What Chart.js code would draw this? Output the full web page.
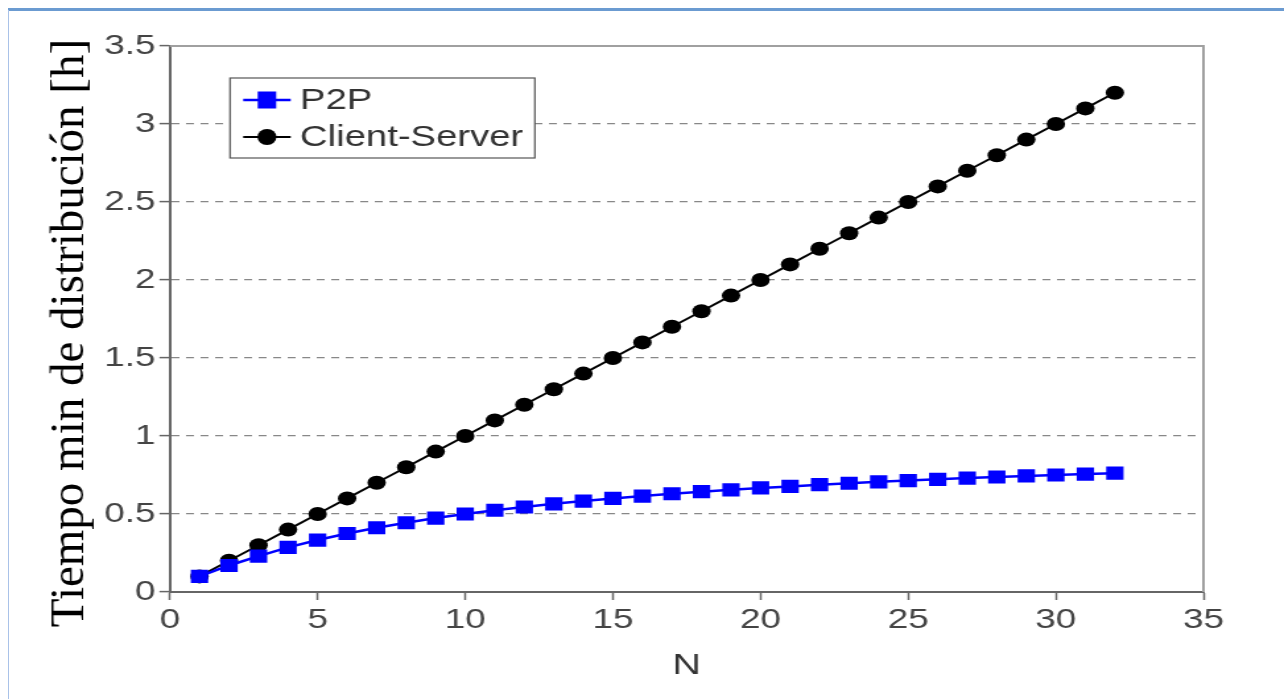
<!DOCTYPE html>
<html>
<head>
<meta charset="utf-8">
<script src="https://cdn.jsdelivr.net/npm/chart.js@4.4.1/dist/chart.umd.min.js"></script>
<style>
  html, body { margin: 0; padding: 0; background: #fff; overflow: hidden; }
  #frameTop { position: absolute; left: 8px; top: 8px; width: 1276px; height: 3px; background: #6b9bd1; }
  #frameLeft { position: absolute; left: 8px; top: 10px; width: 1px; height: 689px; background: #a9c2e8; }
  /* the original picture is stretched sideways, so the chart is drawn narrow and scaled */
  #wrap { position: absolute; left: 0; top: 0; width: 973px; height: 699px; transform: scaleX(1.3196); transform-origin: 0 0; }
</style>
</head>
<body>
<div id="frameTop"></div>
<div id="frameLeft"></div>
<div id="wrap"><canvas id="chart"></canvas></div>
<script>
// data
const nValues = [1, 2, 3, 4, 5, 6, 7, 8, 9, 10, 11, 12, 13, 14, 15, 16,
                 17, 18, 19, 20, 21, 22, 23, 24, 25, 26, 27, 28, 29, 30, 31, 32];
const p2pTimes = [0.10, 0.17, 0.23, 0.286, 0.333, 0.375, 0.412, 0.444, 0.474, 0.50, 0.524, 0.545,
                  0.565, 0.583, 0.60, 0.615, 0.63, 0.643, 0.655, 0.667, 0.677, 0.688, 0.697, 0.706,
                  0.714, 0.722, 0.73, 0.737, 0.744, 0.75, 0.756, 0.762];
const csTimes = [0.1, 0.2, 0.3, 0.4, 0.5, 0.6, 0.7, 0.8, 0.9, 1.0, 1.1, 1.2, 1.3, 1.4, 1.5, 1.6,
                 1.7, 1.8, 1.9, 2.0, 2.1, 2.2, 2.3, 2.4, 2.5, 2.6, 2.7, 2.8, 2.9, 3.0, 3.1, 3.2];
const seriesNames = ["P2P", "Client-Server"];
const yTickLabels = ["0", "0.5", "1", "1.5", "2", "2.5", "3", "3.5"];
const xTitle = "N";
const yTitle = "Tiempo min de distribución [h]";

const stretch = 1.3196;
const sans = "'Liberation Sans', Arial, sans-serif";
const serif = "'Liberation Serif', 'Times New Roman', serif";

function toPoints(ys) {
    return nValues.map((n, i) => ({ x: n, y: ys[i] }));
}

// top + right frame of the plot box
const boxFrame = {
    id: "boxFrame",
    beforeDatasetsDraw(chart) {
        const { ctx, chartArea: a } = chart;
        ctx.save();
        ctx.strokeStyle = "#a0a0a0";
        ctx.lineWidth = 2;
        ctx.beginPath();
        ctx.moveTo(a.left, a.top);
        ctx.lineTo(a.right, a.top);
        ctx.lineTo(a.right, a.bottom);
        ctx.stroke();
        ctx.restore();
    }
};

// rotated serif title on the left (not stretched in the original)
const yTitlePlugin = {
    id: "yTitlePlugin",
    afterDraw(chart) {
        const ctx = chart.ctx;
        ctx.save();
        ctx.translate(83 / stretch, 333);
        ctx.scale(1 / stretch, 1);
        ctx.rotate(-Math.PI / 2);
        ctx.font = "47px " + serif;
        ctx.fillStyle = "#000";
        ctx.textAlign = "center";
        ctx.textBaseline = "alphabetic";
        ctx.fillText(yTitle, 0, 0);
        ctx.restore();
    }
};

// legend box inside the plot
const boxLegend = {
    id: "boxLegend",
    afterDraw(chart) {
        const { ctx, chartArea: a } = chart;
        const x0 = a.left + 45.5, y0 = 78, w = 231, h = 80;
        ctx.save();
        ctx.fillStyle = "#fff";
        ctx.fillRect(x0, y0, w, h);
        ctx.strokeStyle = "#555";
        ctx.lineWidth = 1.2;
        ctx.strokeRect(x0, y0, w, h);
        const rows = [100, 137];
        chart.data.datasets.forEach((ds, i) => {
            const y = rows[i];
            ctx.strokeStyle = ds.borderColor;
            ctx.lineWidth = ds.borderWidth;
            ctx.beginPath();
            ctx.moveTo(x0 + 10, y);
            ctx.lineTo(x0 + 46, y);
            ctx.stroke();
            ctx.fillStyle = ds.pointBackgroundColor;
            const cx = x0 + 28;
            if (ds.pointStyle === "rect") {
                ctx.fillRect(cx - 7, y - 8.5, 14, 17);
            } else {
                ctx.beginPath();
                ctx.ellipse(cx, y, 7.2, 8, 0, 0, Math.PI * 2);
                ctx.fill();
            }
            ctx.fillStyle = "#333";
            ctx.font = "29px " + sans;
            ctx.textAlign = "left";
            ctx.textBaseline = "middle";
            ctx.fillText(ds.label, x0 + 53, y + 1);
        });
        ctx.restore();
    }
};

new Chart(document.getElementById("chart"), {
    type: "line",
    data: {
        datasets: [
            {
                label: seriesNames[0],
                data: toPoints(p2pTimes),
                borderColor: "#0000ff",
                backgroundColor: "#0000ff",
                pointBackgroundColor: "#0000ff",
                pointBorderWidth: 0,
                borderWidth: 2.5,
                pointStyle: "rect",
                pointRadius: 9.3,
                tension: 0
            },
            {
                label: seriesNames[1],
                data: toPoints(csTimes),
                borderColor: "#000000",
                backgroundColor: "#000000",
                pointBackgroundColor: "#000000",
                pointBorderWidth: 0,
                borderWidth: 2,
                pointStyle: "circle",
                pointRadius: 7,
                tension: 0
            }
        ]
    },
    options: {
        responsive: true,
        maintainAspectRatio: false,
        animation: false,
        layout: { padding: { left: 0, right: 61, top: 46, bottom: 0 } },
        plugins: {
            legend: { display: false },
            tooltip: { enabled: false }
        },
        scales: {
            x: {
                type: "linear",
                min: 0,
                max: 35,
                ticks: { stepSize: 5, color: "#444", font: { family: sans, size: 28 }, padding: 3, maxRotation: 0 },
                grid: { drawOnChartArea: false, tickLength: 8, tickColor: "#666", tickWidth: 1.5 },
                border: { color: "#666", width: 2 },
                title: { display: true, text: xTitle, color: "#333", font: { family: sans, size: 30 }, padding: { top: 0, bottom: 15 } },
                afterFit(scale) { scale.height = 107; }
            },
            y: {
                min: 0,
                max: 3.5,
                ticks: {
                    stepSize: 0.5,
                    color: "#444",
                    font: { family: sans, size: 28 },
                    padding: 3,
                    callback: (v, i) => yTickLabels[i]
                },
                grid: { color: "#888", lineWidth: 1.2, tickLength: 8, tickColor: "#666", tickWidth: 1.5, tickBorderDash: [] },
                border: { color: "#666", width: 2, dash: [6, 5] },
                afterFit(scale) { scale.width = 128.8; }
            }
        }
    },
    plugins: [boxFrame, yTitlePlugin, boxLegend]
});
</script>
</body>
</html>
